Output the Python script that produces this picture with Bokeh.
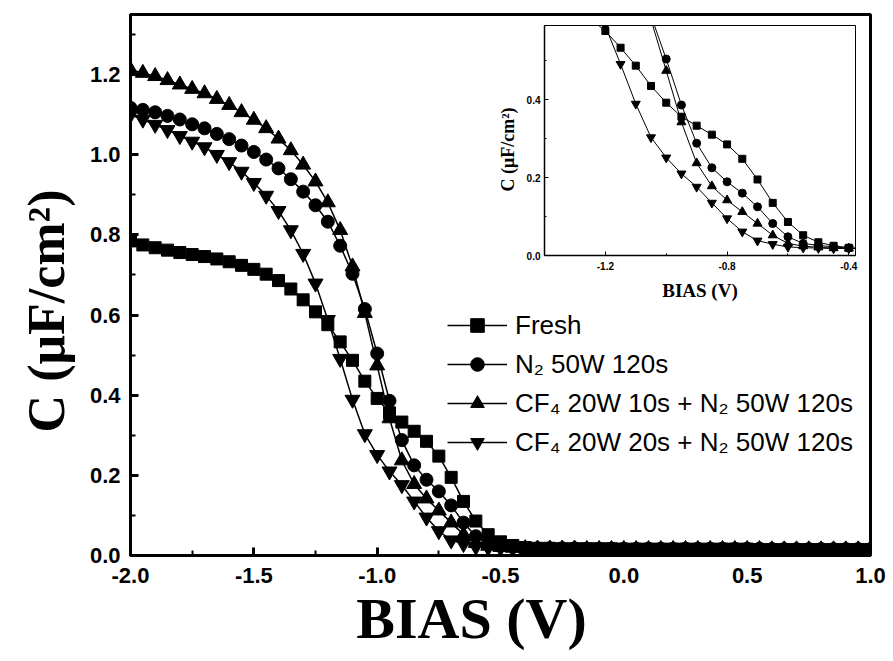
from bokeh.plotting import figure
from bokeh.models import Range1d, FixedTicker, NumeralTickFormatter, Legend, LegendItem
from bokeh.layouts import column
from bokeh.embed import file_html
from bokeh.resources import INLINE

# ---------------- data ----------------
BIAS = [-2.00, -1.95, -1.90, -1.85, -1.80, -1.75, -1.70, -1.65, -1.60, -1.55,
        -1.50, -1.45, -1.40, -1.35, -1.30, -1.25, -1.20, -1.15, -1.10, -1.05,
        -1.00, -0.95, -0.90, -0.85, -0.80, -0.75, -0.70, -0.65, -0.60, -0.55,
        -0.50, -0.45, -0.40, -0.35, -0.30, -0.25, -0.20, -0.15, -0.10, -0.05,
        0.00, 0.05, 0.10, 0.15, 0.20, 0.25, 0.30, 0.35, 0.40, 0.45,
        0.50, 0.55, 0.60, 0.65, 0.70, 0.75, 0.80, 0.85, 0.90, 0.95, 1.00]

FRESH = [0.785, 0.775, 0.768, 0.762, 0.756, 0.751, 0.746, 0.740, 0.733, 0.724,
         0.714, 0.702, 0.686, 0.665, 0.638, 0.608, 0.576, 0.533, 0.487, 0.435,
         0.392, 0.356, 0.333, 0.310, 0.285, 0.248, 0.195, 0.135, 0.086, 0.052,
         0.034, 0.025, 0.020, 0.018, 0.018, 0.017, 0.017, 0.017, 0.017, 0.017,
         0.016, 0.016, 0.016, 0.016, 0.016, 0.016, 0.016, 0.016, 0.016, 0.016,
         0.016, 0.015, 0.015, 0.015, 0.015, 0.015, 0.015, 0.015, 0.015, 0.015, 0.015]

N2_50W = [1.117, 1.112, 1.106, 1.097, 1.088, 1.076, 1.066, 1.052, 1.039, 1.023,
          1.007, 0.988, 0.966, 0.939, 0.908, 0.874, 0.833, 0.773, 0.703, 0.615,
          0.504, 0.386, 0.288, 0.225, 0.189, 0.160, 0.125, 0.082, 0.048, 0.031,
          0.026, 0.022, 0.019, 0.018, 0.018, 0.018, 0.018, 0.017, 0.017, 0.017,
          0.017, 0.017, 0.017, 0.017, 0.017, 0.017, 0.017, 0.017, 0.017, 0.017,
          0.017, 0.017, 0.016, 0.016, 0.016, 0.016, 0.016, 0.016, 0.016, 0.016, 0.016]

CF4_10S = [1.212, 1.204, 1.196, 1.186, 1.175, 1.164, 1.153, 1.139, 1.124, 1.106,
           1.087, 1.066, 1.040, 1.011, 0.975, 0.933, 0.881, 0.812, 0.721, 0.605,
           0.474, 0.342, 0.237, 0.178, 0.142, 0.112, 0.082, 0.052, 0.031, 0.024,
           0.021, 0.019, 0.018, 0.017, 0.017, 0.017, 0.017, 0.016, 0.016, 0.016,
           0.016, 0.016, 0.016, 0.016, 0.016, 0.016, 0.016, 0.016, 0.016, 0.016,
           0.016, 0.016, 0.015, 0.015, 0.015, 0.015, 0.015, 0.015, 0.015, 0.015, 0.015]

CF4_20S = [1.100, 1.088, 1.075, 1.062, 1.047, 1.033, 1.019, 1.000, 0.982, 0.958,
           0.930, 0.898, 0.860, 0.812, 0.753, 0.679, 0.588, 0.491, 0.389, 0.303,
           0.251, 0.210, 0.176, 0.135, 0.095, 0.061, 0.038, 0.029, 0.022, 0.020,
           0.019, 0.018, 0.018, 0.017, 0.017, 0.016, 0.016, 0.016, 0.016, 0.016,
           0.016, 0.016, 0.016, 0.015, 0.015, 0.015, 0.015, 0.015, 0.015, 0.015,
           0.015, 0.015, 0.015, 0.015, 0.015, 0.015, 0.015, 0.015, 0.015, 0.015, 0.015]

LABELS = ["Fresh", "N\u2082 50W 120s",
          "CF\u2084 20W 10s + N\u2082 50W 120s",
          "CF\u2084 20W 20s + N\u2082 50W 120s"]
VALUES = [FRESH, N2_50W, CF4_10S, CF4_20S]
MARKERS = ["square", "circle", "triangle", "inverted_triangle"]
MAIN_SIZES = [12, 13, 15, 15]
INSET_SIZES = [7, 8, 9, 9]

X_MAJOR = [-2.0, -1.5, -1.0, -0.5, 0.0, 0.5, 1.0]
X_MINOR = [-1.75, -1.25, -0.75, -0.25, 0.25, 0.75]
Y_MAJOR = [0.0, 0.2, 0.4, 0.6, 0.8, 1.0, 1.2]
Y_MINOR = [0.1, 0.3, 0.5, 0.7, 0.9, 1.1, 1.3]
IX_MAJOR = [-1.2, -0.8, -0.4]
IX_MINOR = [-1.4, -1.0, -0.6]
IY_MAJOR = [0.0, 0.2, 0.4]
IY_MINOR = [0.1, 0.3, 0.5]

NB = "\u00a0"

# ---------------- main figure ----------------
p = figure(width=893, height=661, x_range=Range1d(-2.0, 1.0), y_range=Range1d(0.0, 1.35),
           output_backend="svg", toolbar_location=None,
           min_border_left=130, min_border_right=23, min_border_top=14, min_border_bottom=106)
p.xgrid.visible = False
p.ygrid.visible = False
p.outline_line_color = "black"
p.outline_line_width = 3
p.background_fill_color = "white"
p.border_fill_color = "white"

p.xaxis.ticker = FixedTicker(ticks=X_MAJOR, minor_ticks=X_MINOR)
p.yaxis.ticker = FixedTicker(ticks=Y_MAJOR, minor_ticks=Y_MINOR)
p.xaxis.axis_label = "BIAS (V)" + NB * 4
p.yaxis.axis_label = "C (\u03bcF/cm\u00b2)" + NB * 4
for ax in (p.xaxis[0], p.yaxis[0]):
    ax.formatter = NumeralTickFormatter(format="0.0")
    ax.axis_line_width = 3
    ax.axis_line_color = "black"
    ax.major_tick_line_width = 3
    ax.minor_tick_line_width = 2
    ax.major_tick_in = 8
    ax.major_tick_out = 0
    ax.minor_tick_in = 5
    ax.minor_tick_out = 0
    ax.major_label_text_font = "Liberation Sans"
    ax.major_label_text_font_style = "bold"
    ax.major_label_text_font_size = "22px"
    ax.major_label_text_color = "black"
    ax.axis_label_text_font = "Liberation Serif"
    ax.axis_label_text_font_style = "bold"
    ax.axis_label_text_color = "black"
p.xaxis.major_label_standoff = 12
p.yaxis.major_label_standoff = 10
p.xaxis.axis_label_text_font_size = "58px"
p.yaxis.axis_label_text_font_size = "52px"
p.xaxis.axis_label_standoff = 0
p.yaxis.axis_label_standoff = 12

items = []
for lab, vals, mk, sz in zip(LABELS, VALUES, MARKERS, MAIN_SIZES):
    r1 = p.line(BIAS, vals, line_color="black", line_width=1.5)
    r2 = p.scatter(BIAS, vals, marker=mk, size=sz, fill_color="black", line_color="black")
    items.append(LegendItem(label=lab, renderers=[r1, r2]))

legend = Legend(items=items, location=(317, 96), padding=0, margin=0, spacing=5,
                glyph_width=60, glyph_height=34, label_standoff=8,
                label_text_font="Liberation Sans", label_text_font_size="26px",
                label_text_color="black", border_line_alpha=0, background_fill_alpha=0)
p.add_layout(legend)

# ---------------- inset figure ----------------
# column layouts align plot borders with the main plot (130 left / 23 right),
# so the inset is sized and placed so that its frame lands at x 544..855
ins = figure(width=464, height=290, x_range=Range1d(-1.4, -0.378), y_range=Range1d(0.0, 0.59),
             output_backend="svg", toolbar_location=None,
             min_border_left=130, min_border_right=23, min_border_top=7, min_border_bottom=53)
ins.styles = {"position": "absolute", "left": "414px", "top": "18px",
              "width": "464px", "height": "290px"}
ins.xgrid.visible = False
ins.ygrid.visible = False
ins.outline_line_color = "black"
ins.outline_line_width = 1
ins.background_fill_color = "white"
ins.border_fill_alpha = 0
ins.xaxis.ticker = FixedTicker(ticks=IX_MAJOR, minor_ticks=IX_MINOR)
ins.yaxis.ticker = FixedTicker(ticks=IY_MAJOR, minor_ticks=IY_MINOR)
ins.xaxis.axis_label = "BIAS (V)"
ins.yaxis.axis_label = "C (\u03bcF/cm\u00b2)" + NB * 4
for ax in (ins.xaxis[0], ins.yaxis[0]):
    ax.formatter = NumeralTickFormatter(format="0.0")
    ax.axis_line_width = 1.5
    ax.axis_line_color = "black"
    ax.major_tick_line_width = 1
    ax.minor_tick_line_width = 1
    ax.major_tick_in = 4
    ax.major_tick_out = 0
    ax.minor_tick_in = 2
    ax.minor_tick_out = 0
    ax.major_label_text_font = "Liberation Sans"
    ax.major_label_text_font_style = "bold"
    ax.major_label_text_font_size = "10px"
    ax.major_label_text_color = "black"
    ax.axis_label_text_font = "Liberation Serif"
    ax.axis_label_text_font_style = "bold"
    ax.axis_label_text_color = "black"
ins.xaxis.major_label_standoff = 6
ins.yaxis.major_label_standoff = 4
ins.xaxis.axis_label_text_font_size = "19px"
ins.yaxis.axis_label_text_font_size = "18px"
ins.xaxis.axis_label_standoff = 7
ins.yaxis.axis_label_standoff = 6

for vals, mk, sz in zip(VALUES, MARKERS, INSET_SIZES):
    ins.line(BIAS, vals, line_color="black", line_width=1)
    ins.scatter(BIAS, vals, marker=mk, size=sz, fill_color="black", line_color="black")

root = column(p, ins)
root.styles = {"position": "relative"}

open("out.html", "w").write(file_html(root, INLINE))
